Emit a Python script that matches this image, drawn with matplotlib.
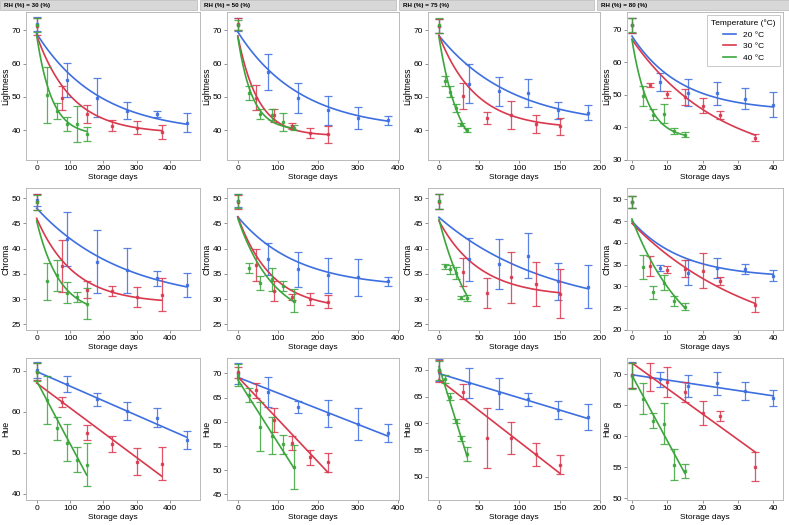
import numpy as np
import matplotlib
matplotlib.use('Agg')
import matplotlib.pyplot as plt
from matplotlib.patches import Rectangle

plt.rcParams['font.family'] = ['Liberation Sans', 'DejaVu Sans']

# relative humidity columns and temperature series
rh_levels = [30, 50, 75, 80]
temp_labels = ['20 °C', '30 °C', '40 °C']
temp_colors = ['#3d6fe0', '#d9384d', '#3ca63c']

# storage days, one list per RH column
days_20 = [[0, 90, 180, 270, 360, 450], [0, 75, 150, 225, 300, 375],
           [0, 37, 74, 111, 148, 185], [0, 8, 16, 24, 32, 40]]
days_30 = [[0, 75, 150, 225, 300, 375], [0, 45, 90, 135, 180, 225],
           [0, 30, 60, 90, 120, 150], [0, 5, 10, 15, 20, 25, 35]]
days_40 = [[0, 30, 60, 90, 120, 150], [0, 28, 56, 84, 112, 140],
           [0, 7, 14, 21, 28, 35], [0, 3, 6, 9, 12, 15]]

# Lightness means and SD
lightness_20 = [[71.9, 55.0, 49.7, 45.8, 44.8, 42.2], [71.7, 57.4, 49.7, 45.9, 43.6, 42.9],
                [71.3, 54.0, 51.7, 51.2, 45.9, 45.2], [71.3, 54.0, 50.6, 50.5, 48.8, 47.0]]
lightness_20_sd = [[2.0, 5.2, 5.9, 2.5, 1.0, 2.8], [2.0, 5.4, 4.6, 4.4, 3.4, 1.4],
                   [2.2, 6.0, 4.4, 4.3, 2.6, 2.3], [2.2, 2.8, 4.1, 3.5, 3.2, 3.9]]
lightness_30 = [[71.2, 49.6, 44.8, 41.3, 40.7, 39.5], [71.8, 49.7, 44.4, 41.2, 39.1, 38.7],
                [71.3, 50.2, 43.6, 44.6, 41.9, 41.1], [71.3, 53.0, 50.2, 49.3, 46.7, 43.8, 36.8]]
lightness_30_sd = [[2.6, 3.5, 2.8, 1.7, 2.0, 2.1], [1.8, 3.8, 2.0, 0.9, 1.6, 2.6],
                   [2.2, 3.9, 1.7, 4.2, 2.7, 2.5], [2.2, 0.6, 1.1, 2.5, 2.3, 1.3, 1.1]]
lightness_40 = [[71.6, 50.6, 45.7, 41.8, 41.9, 38.9], [71.5, 51.1, 44.8, 44.6, 42.3, 40.7],
                [71.5, 54.9, 51.5, 46.7, 41.7, 40.0], [71.5, 49.7, 43.9, 44.2, 39.0, 37.8]]
lightness_40_sd = [[2.2, 8.5, 2.5, 2.2, 5.4, 2.1], [1.5, 2.0, 1.5, 1.7, 2.7, 0.7],
                   [2.2, 1.5, 1.7, 1.2, 0.4, 0.7], [2.2, 3.0, 1.7, 3.0, 0.9, 0.7]]

# Chroma means and SD
chroma_20 = [[49.7, 41.9, 37.4, 35.7, 34.1, 32.8], [49.5, 37.9, 35.9, 34.7, 34.3, 33.5],
             [49.4, 37.9, 37.0, 38.6, 33.5, 32.5], [49.3, 34.3, 33.2, 34.2, 34.0, 32.5]]
chroma_20_sd = [[1.2, 5.4, 6.2, 4.5, 1.4, 2.3], [1.3, 3.2, 3.5, 3.4, 3.7, 0.8],
                [1.5, 4.3, 4.9, 4.4, 3.6, 4.2], [1.4, 0.7, 2.8, 2.3, 1.2, 1.2]]
chroma_30 = [[49.3, 36.6, 31.9, 31.7, 30.4, 30.9], [49.3, 36.7, 31.6, 30.5, 30.0, 29.5],
             [49.3, 35.4, 31.2, 34.3, 33.0, 31.1], [49.3, 34.7, 33.8, 34.1, 33.6, 31.3, 25.8]]
chroma_30_sd = [[1.6, 5.2, 1.7, 1.0, 2.0, 3.3], [1.4, 3.2, 2.0, 0.6, 1.2, 1.3],
                [1.5, 2.8, 2.9, 5.0, 4.3, 4.8], [1.4, 2.2, 0.8, 1.9, 4.0, 0.9, 1.7]]
chroma_40 = [[49.2, 33.5, 34.7, 31.3, 30.4, 29.1], [49.5, 36.2, 33.2, 33.9, 32.6, 29.7],
             [49.4, 36.5, 35.9, 35.1, 30.3, 30.3], [49.3, 34.4, 28.7, 30.9, 26.6, 25.3]]
chroma_40_sd = [[1.5, 3.7, 3.1, 2.1, 1.0, 3.1], [1.4, 1.0, 1.4, 2.3, 0.9, 2.3],
                [1.5, 0.5, 0.9, 1.2, 0.3, 0.6], [1.4, 2.8, 1.5, 1.7, 1.1, 0.8]]

# Hue means and SD
hue_20 = [[70.2, 66.7, 63.0, 60.2, 58.5, 53.1], [70.0, 66.2, 63.1, 61.7, 59.6, 57.7],
          [70.0, 67.5, 65.6, 64.5, 62.5, 61.2], [69.8, 69.2, 68.1, 68.5, 67.3, 66.1]]
hue_20_sd = [[2.0, 1.9, 1.5, 2.2, 2.3, 2.1], [2.2, 3.1, 1.2, 2.8, 3.3, 1.9],
             [2.0, 2.8, 2.9, 1.2, 1.7, 2.4], [2.1, 1.2, 1.8, 1.8, 1.4, 1.3]]
hue_30 = [[69.8, 62.3, 54.9, 52.2, 47.8, 47.3], [70.2, 66.5, 60.3, 55.6, 52.6, 51.6],
          [69.8, 65.9, 57.3, 57.3, 54.2, 52.3], [69.8, 69.5, 68.7, 67.1, 63.7, 63.2, 55.1]]
hue_30_sd = [[2.0, 1.2, 1.8, 2.0, 3.3, 4.0], [1.2, 1.5, 2.5, 1.4, 1.5, 1.9],
             [2.0, 1.4, 5.6, 3.0, 2.1, 1.8], [2.0, 2.3, 2.4, 1.6, 1.9, 0.8, 2.3]]
hue_40 = [[69.6, 62.9, 56.0, 52.4, 48.3, 47.1], [69.7, 65.5, 59.0, 57.1, 55.3, 50.6],
          [69.9, 68.3, 65.0, 60.4, 57.2, 54.2], [69.7, 66.0, 62.5, 62.0, 55.4, 54.4]]
hue_40_sd = [[2.2, 5.8, 2.8, 4.5, 3.0, 5.2], [2.2, 1.4, 5.0, 3.8, 2.0, 4.5],
             [1.8, 0.8, 0.6, 0.4, 0.4, 1.3], [2.1, 2.5, 1.2, 3.3, 2.5, 1.1]]

# fitted first-order models: (plateau, span, rate)
lightness_fit_20 = [(39, 30, 0.0053), (40, 29.5, 0.0064), (41, 27.4, 0.011), (45, 23, 0.072)]
lightness_fit_30 = [(39, 29.5, 0.0095), (38.3, 30, 0.02), (40.5, 28, 0.022), (28, 39, 0.04)]
lightness_fit_40 = [(38.5, 30, 0.022), (40, 28, 0.028), (30, 38, 0.0396), (36.5, 30.5, 0.22)]
chroma_fit_20 = [(29, 19, 0.0038), (32.3, 14, 0.0068), (27, 19.2, 0.0072), (32, 13, 0.07)]
chroma_fit_30 = [(29.2, 16.8, 0.009), (28, 18.3, 0.0119), (30.5, 15, 0.0197), (15, 29.5, 0.028)]
chroma_fit_40 = [(27, 18.5, 0.0147), (25, 21, 0.011), (18, 27.8, 0.0225), (11.8, 33.7, 0.062)]
# fitted hue lines: (value at day 0, value at last day)
hue_fit_20 = [(69.8, 53.8), (69.2, 57.0), (69.3, 60.9), (69.9, 66.5)]
hue_fit_30 = [(67.0, 44.3), (69.3, 49.5), (68.2, 50.7), (71.8, 57.4)]
hue_fit_40 = [(67.5, 44.6), (68.7, 50.4), (70.6, 53.8), (69.8, 54.0)]

row_names = ['Lightness', 'Chroma', 'Hue']
days = [days_20, days_30, days_40]
values = [[lightness_20, lightness_30, lightness_40],
          [chroma_20, chroma_30, chroma_40],
          [hue_20, hue_30, hue_40]]
sds = [[lightness_20_sd, lightness_30_sd, lightness_40_sd],
       [chroma_20_sd, chroma_30_sd, chroma_40_sd],
       [hue_20_sd, hue_30_sd, hue_40_sd]]
fits = [[lightness_fit_20, lightness_fit_30, lightness_fit_40],
        [chroma_fit_20, chroma_fit_30, chroma_fit_40],
        [hue_fit_20, hue_fit_30, hue_fit_40]]

# layout in pixels
W, H = 789, 525
col_px = [(26, 200), (227, 399), (428, 600), (627, 783)]
row_px = [(12, 160), (188, 330), (358, 500)]
header_px = [(0, 197), (200, 396), (399, 594), (597, 789)]
xlims = [(-32, 490), (-27, 402), (-13.6, 200), (-1.4, 42.8)]
xticks = [[0, 100, 200, 300, 400], [0, 100, 200, 300, 400],
          [0, 50, 100, 150, 200], [0, 10, 20, 30, 40]]
ylims = [[(31, 75.5), (31, 75.5), (31, 75.5), (30, 75.4)],
         [(23.9, 52), (23.9, 52), (23.9, 52), (20, 52.6)],
         [(38.5, 73.1), (43.8, 73.2), (45.7, 72.2), (49.7, 72.6)]]
yticks = [[[40, 50, 60, 70]] * 3 + [[30, 40, 50, 60, 70]],
          [[25, 30, 35, 40, 45, 50]] * 3 + [[20, 25, 30, 35, 40, 45, 50]],
          [[40, 50, 60, 70], [45, 50, 55, 60, 65, 70], [50, 55, 60, 65, 70], [50, 55, 60, 65, 70]]]

fig = plt.figure(figsize=(W / 100, H / 100), dpi=100)

for c, (x0, x1) in enumerate(header_px):
    fig.add_artist(Rectangle((x0 / W, 1 - 10 / H), (x1 - x0) / W, 10 / H,
                             transform=fig.transFigure, facecolor='#d8d8d8',
                             edgecolor='#b8b8b8', lw=0.5))
    fig.text((x0 + 4) / W, 1 - 5.5 / H, 'RH (%%) = %d (%%)' % rh_levels[c],
             fontsize=4.5, weight='bold', va='center', ha='left')

for r in range(3):
    for c in range(4):
        l, rgt = col_px[c]
        t, b = row_px[r]
        ax = fig.add_axes([l / W, 1 - b / H, (rgt - l) / W, (b - t) / H])
        for k in range(3):
            d = days[k][c]
            v = values[r][k][c]
            s = sds[r][k][c]
            col = temp_colors[k]
            ax.errorbar(d, v, yerr=s, fmt='s', ms=2, color=col, ecolor=col,
                        elinewidth=0.9, capsize=2.6, capthick=0.9, alpha=0.85)
            if r < 2:
                a, span, rate = fits[r][k][c]
                xs = np.linspace(0, d[-1], 120)
                ax.plot(xs, a + span * np.exp(-rate * xs), color=col, lw=1.2,
                        label=temp_labels[k])
            else:
                y0, y1 = fits[r][k][c]
                ax.plot([0, d[-1]], [y0, y1], color=col, lw=1.2, label=temp_labels[k])
        ax.set_xlim(*xlims[c])
        ax.set_ylim(*ylims[r][c])
        ax.set_xticks(xticks[c])
        ax.set_yticks(yticks[r][c])
        ax.tick_params(labelsize=6, length=2.5, width=0.6, color='#808080', pad=1.2)
        for sp in ax.spines.values():
            sp.set_color('#b0b0b0')
            sp.set_linewidth(0.6)
        ax.set_xlabel('Storage days', fontsize=6, labelpad=1)
        ax.set_ylabel(row_names[r], fontsize=6.3, labelpad=0.8)
        if r == 0 and c == 3:
            leg = ax.legend(loc='upper right', title='Temperature (°C)', fontsize=6,
                            title_fontsize=6, frameon=True, fancybox=False,
                            handlelength=1.6, borderpad=0.5, labelspacing=0.45,
                            borderaxespad=0.4)
            leg.get_frame().set_edgecolor('#b0b0b0')
            leg.get_frame().set_linewidth(0.6)

fig.savefig('out.png', dpi=100)
